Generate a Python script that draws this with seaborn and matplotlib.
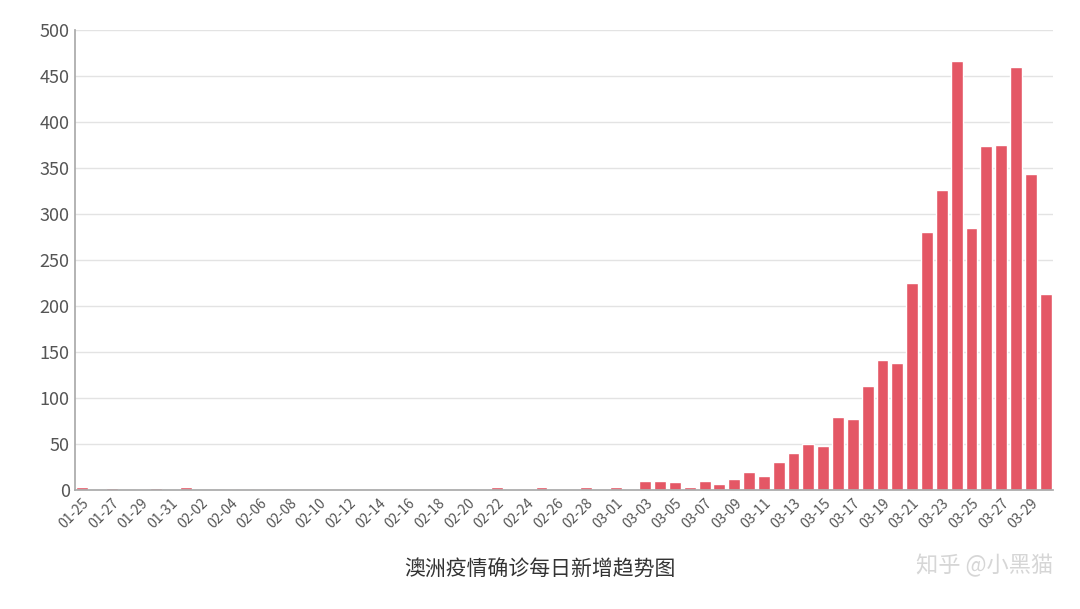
import matplotlib
matplotlib.use("Agg")
import matplotlib.pyplot as plt
import seaborn as sns
import pandas as pd

dates = pd.date_range("2020-01-25", "2020-03-30").strftime("%m-%d").tolist()
values = [4,0,2,0,1,2,0,3,0,0,1,1,1,0,0,0,0,0,0,0,0,0,0,0,0,0,0,1,3,1,0,3,0,0,3,0,
          3,1,10,10,9,4,10,7,12,20,15,31,41,50,48,80,77,113,142,138,225,281,326,467,285,374,375,460,344,213]
df = pd.DataFrame({"date": dates, "n": values})

sns.set_theme(style="white")
plt.rcParams['font.family'] = ['Noto Sans CJK SC', 'DejaVu Sans']
fig, ax = plt.subplots(figsize=(10.8, 6.09), dpi=100)
fig.subplots_adjust(left=0.069, right=0.975, top=0.95, bottom=0.195)
sns.barplot(data=df, x="date", y="n", color="#e45765", saturation=1, width=0.8, ax=ax)
ax.set_ylim(0, 500)
ax.set_xlim(-0.5, len(dates) - 0.5)
ax.set_yticks(range(0, 501, 50))
ax.yaxis.grid(True, color="#e3e3e3", linewidth=1)
ax.set_axisbelow(True)
ax.set_xticks(range(0, len(dates), 2))
ax.set_xticklabels(dates[::2], rotation=45, ha="right", rotation_mode="anchor", fontsize=10, color="#555555")
ax.tick_params(axis="y", labelsize=13, colors="#555555", length=0)
ax.tick_params(axis="x", length=0, pad=4)
for s in ["top", "right"]:
    ax.spines[s].set_visible(False)
ax.spines["left"].set_color("#aaaaaa")
ax.spines["bottom"].set_color("#aaaaaa")
ax.set_xlabel("")
ax.set_ylabel("")
fig.text(0.5, 0.055, "澳洲疫情确诊每日新增趋势图", ha="center", fontsize=15, color="#333333")
fig.text(0.975, 0.06, "知乎 @小黑猫", ha="right", fontsize=16, color="#cccccc", alpha=0.8)
fig.savefig("out.png", dpi=100)
